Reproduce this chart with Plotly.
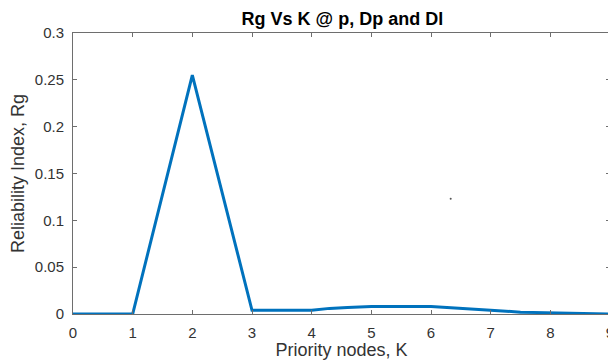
import plotly.graph_objects as go

k_values = [0, 1, 2, 3, 4, 4.3, 4.6, 5, 6, 6.3, 6.7, 7, 7.5, 8, 8.7, 9]
rg_values = [0, 0, 0.255, 0.004, 0.004, 0.006, 0.007, 0.008, 0.008, 0.007, 0.005, 0.004, 0.002, 0.0015, 0.001, 0]
stray_k = [6.33]
stray_rg = [0.123]
x_ticks = [0, 1, 2, 3, 4, 5, 6, 7, 8, 9]
y_ticks = [0, 0.05, 0.1, 0.15, 0.2, 0.25, 0.3]
y_tick_text = ["0", "0.05", "0.1", "0.15", "0.2", "0.25", "0.3"]

FONT = "Liberation Sans, Arial, sans-serif"

fig = go.Figure()
fig.add_trace(go.Scatter(x=k_values, y=rg_values, mode="lines",
                         line=dict(color="#0072BD", width=3), showlegend=False))
fig.add_trace(go.Scatter(x=stray_k, y=stray_rg, mode="markers",
                         marker=dict(color="#555555", size=2), showlegend=False))

axis_common = dict(showline=True, linecolor="#6e6e6e", linewidth=1, mirror="ticks",
                   ticks="inside", ticklen=4, tickcolor="#6e6e6e", showgrid=False,
                   zeroline=False, automargin=False, ticklabelstandoff=5,
                   tickfont=dict(family=FONT, size=15, color="#333333"))

fig.update_layout(
    width=608, height=352,
    margin=dict(l=65, r=6, t=25, b=46),
    paper_bgcolor="white", plot_bgcolor="white",
    title=dict(text="<b>Rg Vs K @ p, Dp and Dl</b>", x=0.55, xanchor="center",
               y=0.97, yanchor="middle",
               font=dict(family=FONT, size=18, color="#000000")),
    xaxis=dict(range=[0, 9], tickvals=x_ticks, ticktext=[str(t) for t in x_ticks],
               title=dict(text="Priority nodes, K", standoff=2,
                          font=dict(family=FONT, size=18, color="#333333")),
               **axis_common),
    yaxis=dict(range=[0, 0.3], tickvals=y_ticks, ticktext=y_tick_text,
               title=dict(text="Reliability Index, Rg", standoff=6,
                          font=dict(family=FONT, size=18, color="#333333")),
               **axis_common),
)
fig.write_html("out.html")
